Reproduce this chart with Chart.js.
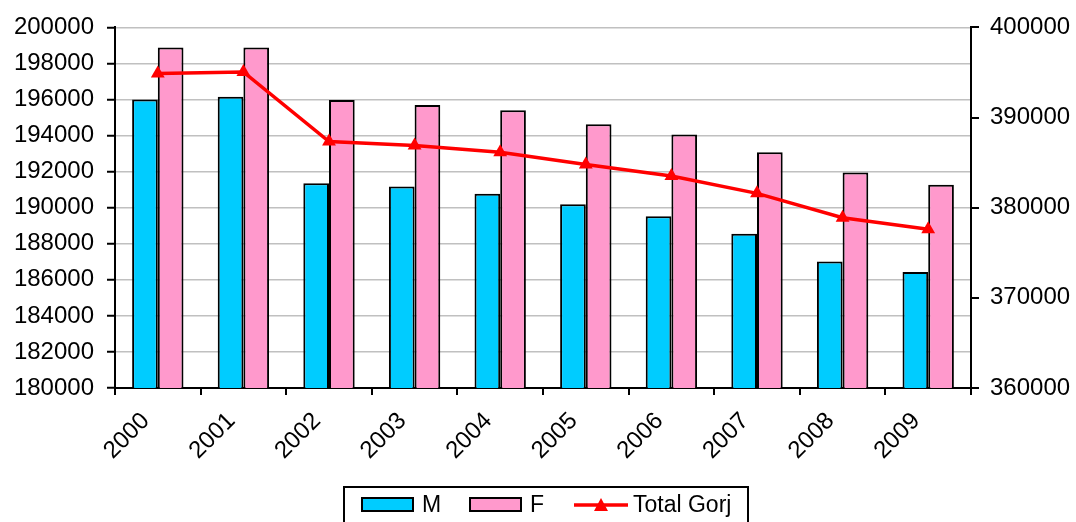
<!DOCTYPE html>
<html>
<head>
<meta charset="utf-8">
<script src="https://cdn.jsdelivr.net/npm/chart.js@4"></script>
<style>
  html, body { margin: 0; padding: 0; background: #fff; }
  #wrap { width: 1076px; height: 522px; }
</style>
</head>
<body>
<div id="wrap"><canvas id="gorjChart" width="1076" height="522"></canvas></div>
<script>
// data
const years = ['2000', '2001', '2002', '2003', '2004', '2005', '2006', '2007', '2008', '2009'];
const maleValues = [196000, 196160, 191360, 191180, 190770, 190190, 189530, 188560, 187010, 186440];
const femaleValues = [198880, 198880, 195980, 195690, 195410, 194630, 194060, 193070, 191950, 191270];
const totalValues = [394880, 395060, 387330, 386900, 386140, 384790, 383520, 381590, 378880, 377620];
const leftTicks = [180000, 200000, 2000];
const rightTicks = [360000, 400000, 10000];

const fontName = '"Liberation Sans", Arial, sans-serif';

// legend with a box round it, like the original
const boxLegend = {
    id: 'boxLegend',
    afterDraw(chart) {
        const ctx = chart.ctx;
        const sets = chart.data.datasets;
        const xs = [362, 470, 574];
        ctx.save();
        ctx.lineWidth = 2;
        ctx.strokeStyle = '#000';
        ctx.strokeRect(344, 487, 404, 45);
        ctx.font = '23px ' + fontName;
        ctx.textBaseline = 'middle';
        ctx.fillStyle = '#000';
        sets.forEach(function (ds, i) {
            const x = xs[i];
            if (ds.type === 'line') {
                ctx.strokeStyle = ds.borderColor;
                ctx.lineWidth = 3.5;
                ctx.beginPath();
                ctx.moveTo(x, 505);
                ctx.lineTo(x + 54, 505);
                ctx.stroke();
                ctx.fillStyle = ds.borderColor;
                ctx.beginPath();
                ctx.moveTo(x + 27, 498);
                ctx.lineTo(x + 34, 511);
                ctx.lineTo(x + 20, 511);
                ctx.closePath();
                ctx.fill();
                ctx.fillStyle = '#000';
                ctx.fillText(ds.label, x + 59, 506);
            } else {
                ctx.fillStyle = ds.backgroundColor;
                ctx.fillRect(x, 498, 51, 13);
                ctx.strokeStyle = '#000';
                ctx.lineWidth = 2;
                ctx.strokeRect(x, 498, 51, 13);
                ctx.fillStyle = '#000';
                ctx.fillText(ds.label, x + 60, 506);
            }
        });
        ctx.restore();
    }
};

const ctxGorj = document.getElementById('gorjChart');
const gorjChart = new Chart(ctxGorj, {
    data: {
        labels: years,
        datasets: [{
            type: 'bar',
            label: 'M',
            data: maleValues,
            backgroundColor: '#00CCFF',
            borderColor: '#000',
            borderWidth: 2,
            yAxisID: 'y',
            order: 1
        }, {
            type: 'bar',
            label: 'F',
            data: femaleValues,
            backgroundColor: '#FF99CC',
            borderColor: '#000',
            borderWidth: 2,
            yAxisID: 'y',
            order: 1
        }, {
            type: 'line',
            label: 'Total Gorj',
            data: totalValues,
            borderColor: '#FF0000',
            backgroundColor: '#FF0000',
            borderWidth: 3.5,
            pointStyle: 'triangle',
            pointRadius: 8,
            pointBorderWidth: 0,
            tension: 0,
            yAxisID: 'y1',
            order: 0
        }]
    },
    options: {
        responsive: false,
        animation: false,
        events: [],
        layout: { padding: { top: 23, left: 0, right: 0, bottom: 0 } },
        datasets: {
            bar: { categoryPercentage: 0.6, barPercentage: 1.0 }
        },
        plugins: {
            legend: { display: false },
            tooltip: { enabled: false }
        },
        scales: {
            x: {
                offset: true,
                grid: {
                    offset: true,
                    drawOnChartArea: false,
                    color: '#000',
                    lineWidth: 2,
                    tickLength: 7
                },
                border: { color: '#000', width: 2 },
                ticks: {
                    color: '#000',
                    font: { family: fontName, size: 24 },
                    minRotation: 45,
                    maxRotation: 45,
                    padding: 12,
                    labelOffset: -12
                },
                afterFit(axis) { axis.height = 134; }
            },
            y: {
                position: 'left',
                min: leftTicks[0],
                max: leftTicks[1],
                grid: {
                    color: '#c0c0c0',
                    lineWidth: 1.5,
                    tickColor: '#000',
                    tickWidth: 2,
                    tickLength: 8
                },
                border: { color: '#000', width: 2 },
                ticks: {
                    stepSize: leftTicks[2],
                    color: '#000',
                    font: { family: fontName, size: 24 },
                    padding: 13,
                    callback: v => String(v)
                },
                afterFit(axis) { axis.width = 115; }
            },
            y1: {
                position: 'right',
                min: rightTicks[0],
                max: rightTicks[1],
                grid: {
                    drawOnChartArea: false,
                    color: '#000',
                    lineWidth: 2,
                    tickLength: 8
                },
                border: { color: '#000', width: 2 },
                ticks: {
                    stepSize: rightTicks[2],
                    color: '#000',
                    font: { family: fontName, size: 24 },
                    padding: 11,
                    callback: v => String(v)
                },
                afterFit(axis) { axis.width = 105; }
            }
        }
    },
    plugins: [boxLegend]
});
</script>
</body>
</html>
